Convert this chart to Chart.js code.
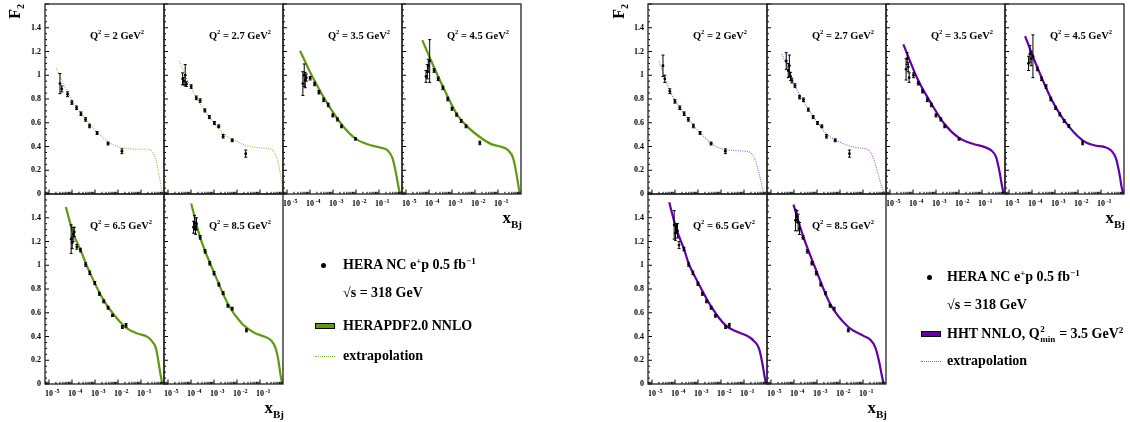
<!DOCTYPE html>
<html>
<head>
<meta charset="utf-8">
<script src="https://cdn.jsdelivr.net/npm/chart.js@4.4.1/dist/chart.umd.min.js"></script>
<style>
  body { margin: 0; background: #fff; }
  #page { position: relative; width: 1130px; height: 422px; overflow: hidden;
          font-family: "Liberation Serif", serif; font-weight: bold; color: #000; }
  #page canvas { position: absolute; }
  .lbl { position: absolute; white-space: nowrap; font-size: 14px; line-height: 16px; }
  .sup { font-size: 0.65em; vertical-align: 0.55em; line-height: 0; }
  .ss { display: inline-block; position: relative; width: 1.75em; height: 0; font-size: 0.65em; }
  .ss .a { position: absolute; left: 0.05em; bottom: 0.45em; line-height: 1; }
  .ss .b { position: absolute; left: 0.05em; top: -0.35em; line-height: 1; }
  .dot { position: absolute; width: 5px; height: 5px; border-radius: 50%; background: #000; }
  .box { position: absolute; width: 18px; height: 4px; border: 1px solid #000; }
  .dash { position: absolute; width: 20px; height: 0; border-top: 1px dotted; }
  .xt { position: absolute; font-size: 17px; line-height: 18px; white-space: nowrap; }
  .xt span { font-size: 11px; vertical-align: -0.45em; }
  .f2 { position: absolute; font-size: 16px; line-height: 16px; white-space: nowrap;
        transform-origin: left top; transform: rotate(-90deg) translateX(-100%); }
  .f2 span { font-size: 10px; vertical-align: -0.35em; }
</style>
</head>
<body>
<div id="page"></div>
<script>
// ---- data ----
const q2Labels = ['2', '2.7', '3.5', '4.5', '6.5', '8.5'];
const yTickValues = [0, 0.2, 0.4, 0.6, 0.8, 1, 1.2, 1.4];
const yTickLabels = ['0', '0.2', '0.4', '0.6', '0.8', '1', '1.2', '1.4'];
const xTickExponents = [-5, -4, -3, -2, -1];

// HERA points, [x, F2, error], HERAPDF panel
const pdfPts_2  = [[3.0e-5,0.93,0.085],[3.6e-5,0.885,0.025],[6.4e-5,0.84,0.02],[9.9e-5,0.77,0.015],[1.58e-4,0.726,0.015],[2.45e-4,0.676,0.015],[3.9e-4,0.628,0.015],[5.8e-4,0.573,0.015],[1.23e-3,0.514,0.012],[3.7e-3,0.425,0.012],[1.48e-2,0.36,0.02]];
const pdfPts_27 = [[4.3e-5,0.97,0.05],[4.9e-5,0.95,0.03],[5.6e-5,1.0,0.09],[6.3e-5,0.925,0.02],[1.02e-4,0.905,0.015],[1.7e-4,0.81,0.015],[2.5e-4,0.787,0.015],[4.0e-4,0.704,0.013],[6.3e-4,0.648,0.013],[1.04e-3,0.598,0.012],[1.6e-3,0.57,0.012],[2.5e-3,0.486,0.015],[6.2e-3,0.452,0.012],[2.4e-2,0.34,0.03]];
const pdfPts_35 = [[4.9e-5,0.93,0.10],[5.6e-5,1.0,0.095],[6.2e-5,0.96,0.065],[6.9e-5,0.98,0.03],[1.02e-4,0.975,0.015],[1.58e-4,0.927,0.015],[2.45e-4,0.857,0.015],[3.9e-4,0.793,0.015],[6.2e-4,0.75,0.015],[9.8e-4,0.662,0.013],[1.55e-3,0.628,0.013],[2.34e-3,0.57,0.012],[9.5e-3,0.464,0.01]];
const pdfPts_45 = [[7.4e-5,0.99,0.05],[8.5e-5,1.03,0.06],[9.3e-5,1.08,0.055],[1.07e-4,1.12,0.18],[1.66e-4,1.04,0.015],[2.5e-4,0.97,0.015],[4.0e-4,0.894,0.015],[6.5e-4,0.80,0.015],[1.0e-3,0.718,0.013],[1.58e-3,0.668,0.013],[2.5e-3,0.615,0.012],[4.1e-3,0.57,0.012],[1.62e-2,0.43,0.015]];
const pdfPts_65 = [[9.2e-5,1.22,0.12],[1.02e-4,1.19,0.05],[1.12e-4,1.26,0.06],[1.26e-4,1.28,0.04],[1.62e-4,1.155,0.02],[2.34e-4,1.128,0.015],[3.9e-4,1.006,0.015],[5.9e-4,0.936,0.015],[9.8e-4,0.85,0.013],[1.55e-3,0.76,0.013],[2.4e-3,0.696,0.012],[3.7e-3,0.642,0.012],[5.75e-3,0.578,0.01],[1.55e-2,0.48,0.012],[2.24e-2,0.494,0.015]];
const pdfPts_85 = [[1.29e-4,1.32,0.05],[1.41e-4,1.36,0.06],[1.58e-4,1.30,0.04],[1.74e-4,1.35,0.05],[2.5e-4,1.235,0.015],[4.1e-4,1.117,0.015],[6.5e-4,1.017,0.015],[1.0e-3,0.933,0.015],[1.62e-3,0.838,0.013],[2.5e-3,0.765,0.013],[4.0e-3,0.659,0.012],[6.2e-3,0.634,0.012],[2.57e-2,0.452,0.013]];

// HERAPDF2.0 NNLO curves, [x, F2]
const pdfCurve_2  = [[2.04e-5,1.06],[5.96e-5,0.87],[1.58e-4,0.726],[3.89e-4,0.634],[1.23e-3,0.522],[3.72e-3,0.439],[9.3e-3,0.402],[2.57e-2,0.383],[7.0e-2,0.377],[0.19,0.377],[0.316,0.355],[0.447,0.285],[0.63,0.145],[0.817,0.02],[0.933,0]];
const pdfCurve_27 = [[3.0e-5,1.12],[1.02e-4,0.89],[4.07e-4,0.70],[2.51e-3,0.51],[7.9e-3,0.45],[3.0e-2,0.405],[8.3e-2,0.39],[0.229,0.383],[0.316,0.375],[0.447,0.34],[0.63,0.257],[0.87,0.10],[0.98,0]];
const pdfCurve_35 = [[3.7e-5,1.207],[1.02e-4,1.025],[3.9e-4,0.816],[2.34e-3,0.587],[9.5e-3,0.466],[4.4e-2,0.41],[0.12,0.39],[0.234,0.369],[0.389,0.30],[0.55,0.173],[0.776,0.02],[0.85,0]];
const pdfCurve_45 = [[5.1e-5,1.296],[1.07e-4,1.15],[4.0e-4,0.905],[1.58e-3,0.676],[4.1e-3,0.578],[1.62e-2,0.48],[5.1e-2,0.42],[0.138,0.397],[0.275,0.369],[0.457,0.30],[0.63,0.173],[0.83,0.034],[0.91,0]];
const pdfCurve_65 = [[5.4e-5,1.49],[1.12e-4,1.27],[2.34e-4,1.128],[5.9e-4,0.94],[2.4e-3,0.704],[9.3e-3,0.55],[2.57e-2,0.466],[7.0e-2,0.425],[0.19,0.397],[0.316,0.355],[0.447,0.30],[0.562,0.20],[0.69,0.09],[0.85,0]];
const pdfCurve_85 = [[1.02e-4,1.52],[2.5e-4,1.235],[1.0e-3,0.94],[4.0e-3,0.676],[1.55e-2,0.514],[5.9e-2,0.43],[0.162,0.397],[0.316,0.363],[0.479,0.30],[0.63,0.20],[0.76,0.09],[0.93,0]];

// HERA points, HHT panel
const hhtPts_2  = [[3.0e-5,1.08,0.09],[3.6e-5,0.97,0.03],[5.96e-5,0.866,0.02],[9.9e-5,0.78,0.015],[1.62e-4,0.726,0.015],[2.5e-4,0.676,0.015],[3.8e-4,0.628,0.015],[6.3e-4,0.573,0.015],[1.23e-3,0.514,0.012],[3.7e-3,0.425,0.012],[1.55e-2,0.36,0.02]];
const hhtPts_27 = [[4.6e-5,1.12,0.07],[5.6e-5,1.04,0.06],[6.3e-5,1.08,0.09],[7.1e-5,0.99,0.035],[8.1e-5,0.955,0.02],[1.1e-4,0.913,0.015],[1.74e-4,0.816,0.015],[2.6e-4,0.793,0.015],[4.2e-4,0.71,0.013],[6.8e-4,0.648,0.013],[1.05e-3,0.598,0.012],[1.62e-3,0.57,0.012],[2.57e-3,0.486,0.015],[6.2e-3,0.452,0.012],[2.57e-2,0.34,0.03]];
const hhtPts_35 = [[5.0e-5,1.05,0.09],[5.6e-5,1.14,0.05],[6.2e-5,1.07,0.04],[6.8e-5,0.98,0.04],[1.05e-4,1.0,0.02],[1.7e-4,0.933,0.015],[2.6e-4,0.866,0.015],[4.2e-4,0.793,0.015],[6.3e-4,0.75,0.015],[1.0e-3,0.662,0.013],[1.62e-3,0.628,0.013],[2.4e-3,0.57,0.012],[1.0e-2,0.464,0.01]];
const hhtPts_45 = [[7.1e-5,1.10,0.06],[8.1e-5,1.18,0.07],[9.2e-5,1.14,0.06],[1.1e-4,1.16,0.18],[1.7e-4,1.053,0.015],[2.6e-4,0.97,0.015],[4.1e-4,0.905,0.015],[6.5e-4,0.80,0.015],[1.05e-3,0.726,0.013],[1.62e-3,0.67,0.013],[2.5e-3,0.615,0.012],[4.0e-3,0.573,0.012],[1.58e-2,0.43,0.015]];
const hhtPts_65 = [[9.2e-5,1.34,0.12],[1.05e-4,1.27,0.06],[1.17e-4,1.31,0.04],[1.29e-4,1.29,0.06],[1.5e-4,1.17,0.03],[2.45e-4,1.137,0.015],[3.9e-4,1.006,0.015],[6.0e-4,0.936,0.015],[9.8e-4,0.844,0.013],[1.55e-3,0.76,0.013],[2.34e-3,0.696,0.012],[3.7e-3,0.642,0.012],[5.75e-3,0.573,0.01],[1.58e-2,0.48,0.012],[2.3e-2,0.494,0.015]];
const hhtPts_85 = [[1.17e-4,1.38,0.09],[1.35e-4,1.41,0.05],[1.51e-4,1.36,0.07],[1.74e-4,1.31,0.05],[2.45e-4,1.235,0.015],[3.8e-4,1.117,0.015],[6.0e-4,1.017,0.015],[9.3e-4,0.933,0.015],[1.45e-3,0.838,0.013],[2.34e-3,0.765,0.013],[3.7e-3,0.659,0.012],[5.6e-3,0.634,0.012],[2.3e-2,0.452,0.013]];

// HHT NNLO curves
const hhtCurve_2  = [[2.04e-5,1.115],[5.96e-5,0.87],[1.62e-4,0.73],[6.3e-4,0.578],[3.7e-3,0.43],[9.3e-3,0.383],[2.57e-2,0.369],[7.0e-2,0.363],[0.162,0.355],[0.269,0.313],[0.38,0.23],[0.525,0.117],[0.69,0.02],[0.79,0]];
const hhtCurve_27 = [[3.0e-5,1.18],[1.1e-4,0.91],[4.2e-4,0.718],[2.57e-3,0.508],[7.8e-3,0.447],[2.57e-2,0.405],[7.0e-2,0.388],[0.162,0.374],[0.269,0.313],[0.447,0.173],[0.66,0.06],[0.87,0]];
const hhtCurve_35 = [[3.8e-5,1.26],[1.7e-4,0.955],[6.3e-4,0.76],[2.4e-3,0.587],[1.0e-2,0.472],[4.5e-2,0.419],[0.123,0.397],[0.245,0.369],[0.407,0.313],[0.562,0.2],[0.708,0.09],[0.87,0]];
const hhtCurve_45 = [[5.0e-5,1.33],[1.7e-4,1.067],[6.5e-4,0.81],[2.5e-3,0.62],[1.58e-2,0.452],[5.0e-2,0.41],[0.138,0.397],[0.269,0.369],[0.447,0.30],[0.63,0.173],[0.81,0.047],[0.97,0]];
const hhtCurve_65 = [[5.6e-5,1.53],[1.17e-4,1.30],[2.45e-4,1.137],[3.9e-4,1.017],[9.8e-4,0.858],[3.7e-3,0.654],[1.58e-2,0.494],[5.0e-2,0.44],[0.138,0.405],[0.269,0.363],[0.447,0.30],[0.63,0.173],[0.79,0.06],[0.91,0]];
const hhtCurve_85 = [[9.5e-5,1.51],[2.45e-4,1.25],[9.3e-4,0.955],[3.7e-3,0.676],[2.3e-2,0.48],[0.105,0.405],[0.204,0.375],[0.339,0.31],[0.5,0.19],[0.66,0.07],[0.79,0]];

// ---- layout ----
const X_MIN = 6.7e-6, X_MAX = 1;
const LABEL_AT = { x: 6.0e-4, y: 1.33 };
const FW = 119, FH = 190;
const PAD = { l: 34, r: 4, t: 4, b: 24 };
const ROW_TOP = [4, 194];
const FONT = '"Liberation Serif", serif';

const panels = [
  { points: [pdfPts_2, pdfPts_27, pdfPts_35, pdfPts_45, pdfPts_65, pdfPts_85],
    curves: [pdfCurve_2, pdfCurve_27, pdfCurve_35, pdfCurve_45, pdfCurve_65, pdfCurve_85],
    lefts: [45, 164, 283, 402], colour: '#5f9a12', extrapColour: '#8cbd45', nExtrap: 2 },
  { points: [hhtPts_2, hhtPts_27, hhtPts_35, hhtPts_45, hhtPts_65, hhtPts_85],
    curves: [hhtCurve_2, hhtCurve_27, hhtCurve_35, hhtCurve_45, hhtCurve_65, hhtCurve_85],
    lefts: [648, 767, 886, 1005], colour: '#6400aa', extrapColour: '#9a5ccf', nExtrap: 2 }
];

function drawRich(ctx, parts, x, y) {
  ctx.textAlign = 'left';
  ctx.textBaseline = 'middle';
  parts.forEach(([txt, size, dy]) => {
    ctx.font = 'bold ' + size + 'px ' + FONT;
    ctx.fillText(txt, x, y + dy);
    x += ctx.measureText(txt).width;
  });
}

// ROOT-like frame, inward ticks, labels and error bars
const rootStyle = {
  id: 'rootStyle',
  afterDraw(chart, args, o) {
    const { ctx, chartArea: a, scales: { x, y } } = chart;
    ctx.save();
    ctx.strokeStyle = '#000';
    ctx.fillStyle = '#000';
    ctx.lineWidth = 1;

    ctx.beginPath();
    chart.data.datasets[0].data.forEach(p => {
      const px = x.getPixelForValue(p.x);
      const y1 = y.getPixelForValue(p.y + p.e), y2 = y.getPixelForValue(p.y - p.e);
      ctx.moveTo(px, y1); ctx.lineTo(px, y2);
      ctx.moveTo(px - 1.5, y1); ctx.lineTo(px + 1.5, y1);
      ctx.moveTo(px - 1.5, y2); ctx.lineTo(px + 1.5, y2);
    });
    ctx.stroke();

    ctx.beginPath();
    for (let k = 0; k <= 32; k++) {
      const py = y.getPixelForValue(k * 0.05);
      ctx.moveTo(a.left, py); ctx.lineTo(a.left + (k % 4 === 0 ? 4 : 2), py);
    }
    for (let d = -6; d < 0; d++) {
      for (let k = 1; k <= 9; k++) {
        const v = k * Math.pow(10, d);
        if (v < X_MIN || v > X_MAX) continue;
        const px = x.getPixelForValue(v);
        ctx.moveTo(px, a.bottom); ctx.lineTo(px, a.bottom - (k === 1 ? 4.5 : 2.2));
      }
    }
    ctx.stroke();

    ctx.lineWidth = 1.3;
    ctx.strokeStyle = '#222';
    ctx.strokeRect(a.left, a.top, a.right - a.left, a.bottom - a.top);

    if (o.showY) {
      ctx.font = 'bold 8px ' + FONT;
      ctx.textAlign = 'right';
      ctx.textBaseline = 'middle';
      yTickValues.forEach((v, j) => ctx.fillText(yTickLabels[j], a.left - 4, y.getPixelForValue(v)));
    }
    if (o.showX) {
      xTickExponents.forEach(e => {
        const px = x.getPixelForValue(Math.pow(10, e));
        ctx.font = 'bold 8px ' + FONT;
        ctx.textAlign = 'center';
        ctx.textBaseline = 'middle';
        ctx.fillText('10', px, a.bottom + 10);
        const w = ctx.measureText('10').width;
        ctx.font = 'bold 6px ' + FONT;
        ctx.textAlign = 'left';
        ctx.fillText(String(e), px + w / 2 + 1.5, a.bottom + 7);
      });
    }
    drawRich(ctx, [['Q', 10.5, 0], ['2', 6.5, -3.5], [' = ' + o.q2 + ' GeV', 10.5, 0], ['2', 6.5, -3.5]],
      x.getPixelForValue(LABEL_AT.x), y.getPixelForValue(LABEL_AT.y));
    ctx.restore();
  }
};

const page = document.getElementById('page');

panels.forEach(panel => {
  for (let i = 0; i < 6; i++) {
    const col = i % 4, row = i < 4 ? 0 : 1;
    const fl = panel.lefts[col], ft = ROW_TOP[row];
    const canvas = document.createElement('canvas');
    canvas.width = FW + PAD.l + PAD.r;
    canvas.height = FH + PAD.t + PAD.b;
    canvas.style.left = (fl - PAD.l) + 'px';
    canvas.style.top = (ft - PAD.t) + 'px';
    page.appendChild(canvas);

    const extrap = i < panel.nExtrap;
    new Chart(canvas, {
      type: 'scatter',
      data: {
        datasets: [
          { data: panel.points[i].map(p => ({ x: p[0], y: p[1], e: p[2] })),
            pointRadius: 1.4, pointBackgroundColor: '#000', pointBorderWidth: 0,
            showLine: false, order: 0 },
          { data: panel.curves[i].map(c => ({ x: c[0], y: c[1] })),
            showLine: true, pointRadius: 0, cubicInterpolationMode: 'monotone',
            borderColor: extrap ? panel.extrapColour : panel.colour,
            borderWidth: extrap ? 1.1 : 2.2,
            borderDash: extrap ? [1, 1.3] : [],
            clip: 0, order: 1 }
        ]
      },
      options: {
        responsive: false,
        animation: false,
        events: [],
        layout: { padding: { left: PAD.l, right: PAD.r, top: PAD.t, bottom: PAD.b } },
        plugins: {
          legend: { display: false },
          tooltip: { enabled: false },
          rootStyle: { showY: col === 0, showX: row === 1 || col >= 2, q2: q2Labels[i] }
        },
        scales: {
          x: { type: 'logarithmic', min: X_MIN, max: X_MAX, display: false },
          y: { type: 'linear', min: 0, max: 1.6, display: false }
        }
      },
      plugins: [rootStyle]
    });
  }
});

// ---- titles and legends ----
function addHtml(cls, style, html) {
  const d = document.createElement('div');
  d.className = cls;
  Object.assign(d.style, style);
  d.innerHTML = html || '';
  page.appendChild(d);
}

addHtml('f2', { left: '7px', top: '4px' }, 'F<span>2</span>');
addHtml('f2', { left: '611px', top: '4px' }, 'F<span>2</span>');

addHtml('xt', { right: (1130 - 522) + 'px', top: '209px' }, 'x<span>Bj</span>');
addHtml('xt', { right: (1130 - 284) + 'px', top: '399px' }, 'x<span>Bj</span>');
addHtml('xt', { right: (1130 - 1125) + 'px', top: '209px' }, 'x<span>Bj</span>');
addHtml('xt', { right: (1130 - 887) + 'px', top: '399px' }, 'x<span>Bj</span>');

const legendRows = [
  { dotX: 323, textX: 343, ys: [265, 293, 326, 356], colour: panels[0].colour, extrapColour: panels[0].extrapColour,
    model: 'HERAPDF2.0 NNLO' },
  { dotX: 929, textX: 947, ys: [277, 305, 334, 361], colour: panels[1].colour, extrapColour: panels[1].extrapColour,
    model: 'HHT NNLO, Q<span class="ss"><span class="a">2</span><span class="b">min</span></span> = 3.5 GeV<span class="sup">2</span>' }
];

legendRows.forEach(L => {
  const boxL = L.dotX - 8;
  addHtml('dot', { left: (L.dotX - 2.5) + 'px', top: (L.ys[0] - 2.5) + 'px' });
  addHtml('lbl', { left: L.textX + 'px', top: (L.ys[0] - 8) + 'px' },
    'HERA NC e<span class="sup">+</span>p 0.5 fb<span class="sup">\u22121</span>');
  addHtml('lbl', { left: L.textX + 'px', top: (L.ys[1] - 8) + 'px' }, '\u221As = 318 GeV');
  addHtml('box', { left: boxL + 'px', top: (L.ys[2] - 3) + 'px', background: L.colour });
  addHtml('lbl', { left: L.textX + 'px', top: (L.ys[2] - 8) + 'px' }, L.model);
  addHtml('dash', { left: boxL + 'px', top: L.ys[3] + 'px', borderColor: L.extrapColour });
  addHtml('lbl', { left: L.textX + 'px', top: (L.ys[3] - 8) + 'px' }, 'extrapolation');
});
</script>
</body>
</html>
